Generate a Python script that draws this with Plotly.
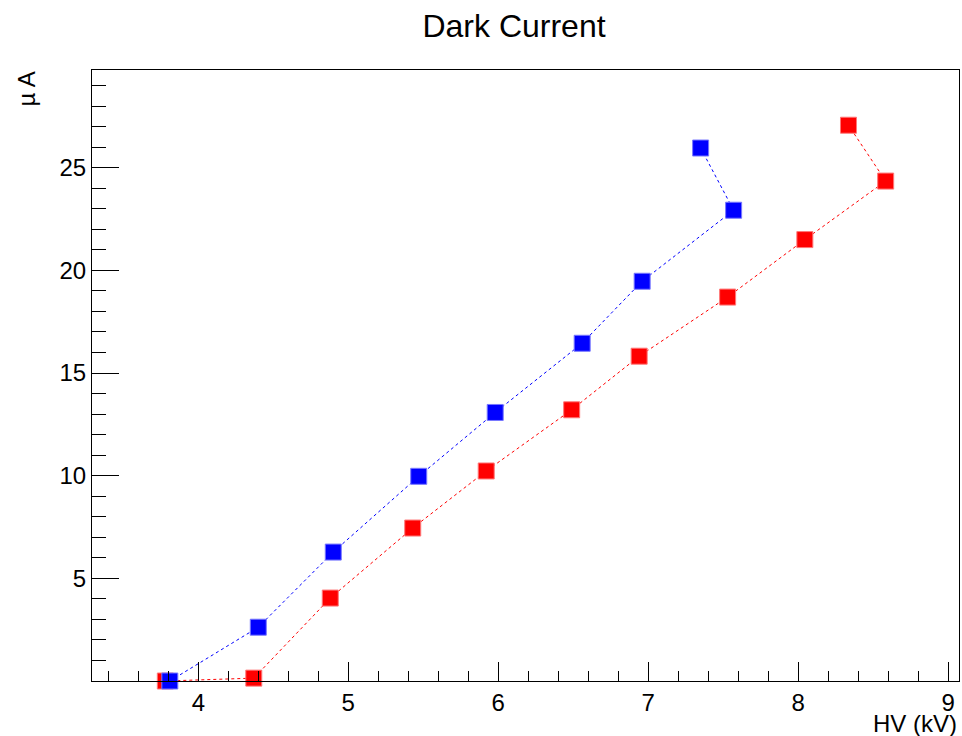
import plotly.graph_objects as go

# Data
hv_blue = [3.81, 4.40, 4.90, 5.47, 5.98, 6.56, 6.96, 7.57, 7.35]
cur_blue = [0.0, 2.62, 6.28, 9.97, 13.08, 16.45, 19.47, 22.93, 25.96]

hv_red = [3.78, 4.37, 4.88, 5.43, 5.92, 6.49, 6.94, 7.53, 8.045, 8.584, 8.336]
cur_red = [0.0, 0.14, 4.04, 7.45, 10.23, 13.21, 15.82, 18.70, 21.50, 24.35, 27.07]

x_ticks = [4, 5, 6, 7, 8, 9]
y_ticks = [5, 10, 15, 20, 25]

FONT = "Liberation Sans, Arial, Helvetica, sans-serif"

fig = go.Figure()
fig.add_trace(go.Scatter(
    x=hv_red, y=cur_red, mode="lines+markers",
    line=dict(color="#ff0000", width=1, dash="dot"),
    marker=dict(symbol="square", size=16, color="#ff0000",
                line=dict(color="rgba(255,120,120,1)", width=1)),
    showlegend=False, cliponaxis=False))
fig.add_trace(go.Scatter(
    x=hv_blue, y=cur_blue, mode="lines+markers",
    line=dict(color="#0000ff", width=1, dash="dot"),
    marker=dict(symbol="square", size=16, color="#0000ff",
                line=dict(color="rgba(120,120,255,1)", width=1)),
    showlegend=False, cliponaxis=False))

fig.update_layout(
    width=962, height=736,
    margin=dict(l=92, r=3, t=70, b=55, pad=0),
    paper_bgcolor="white", plot_bgcolor="white",
    font=dict(family=FONT, size=24, color="black"),
    title=dict(text="Dark Current", x=514/962, xanchor="center",
               y=1 - 15/736, yanchor="top", yref="container",
               font=dict(family=FONT, size=32, color="black")),
    xaxis=dict(range=[3.291, 9.073], tickvals=x_ticks, ticks="inside",
               ticklen=19, tickwidth=1, tickcolor="black",
               showline=True, linecolor="black", linewidth=1, mirror=True,
               showgrid=False, zeroline=False,
               minor=dict(ticks="inside", ticklen=10, dtick=0.2, tick0=0,
                          tickcolor="black", tickwidth=1, showgrid=False),
               tickfont=dict(family=FONT, size=24, color="black")),
    yaxis=dict(range=[0, 29.76], tickvals=y_ticks, ticks="inside",
               ticklen=27, tickwidth=1, tickcolor="black",
               showline=True, linecolor="black", linewidth=1, mirror=True,
               showgrid=False, zeroline=False,
               minor=dict(ticks="inside", ticklen=14, dtick=1, tick0=0,
                          tickcolor="black", tickwidth=1, showgrid=False),
               tickfont=dict(family=FONT, size=24, color="black")),
    annotations=[
        dict(text="HV (kV)", xref="paper", yref="paper", x=1.0, y=-(708 - 681) / 611,
             xanchor="right", yanchor="top", showarrow=False,
             font=dict(family=FONT, size=24, color="black")),
        dict(text="\u00b5 A", xref="paper", yref="paper", x=(26 - 92) / 867,
             y=1 - 0 / 611, xanchor="center", yanchor="top", textangle=-90,
             showarrow=False, font=dict(family=FONT, size=24, color="black")),
    ],
)

fig.write_html("out.html", config={"displayModeBar": False},
               post_script="document.body.style.margin='0';document.body.style.overflow='hidden';")
